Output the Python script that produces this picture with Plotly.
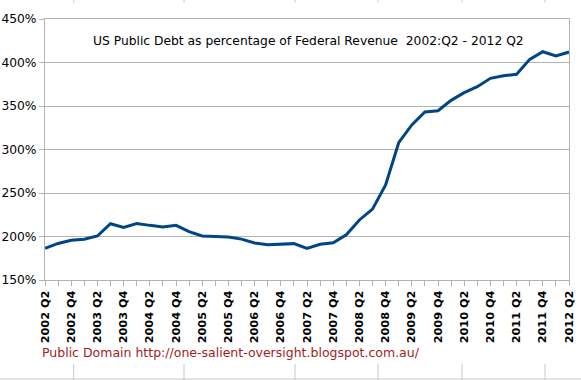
import plotly.graph_objects as go

quarters = []
for yr in range(2002, 2013):
    for q in (1, 2, 3, 4):
        if (yr == 2002 and q < 2) or (yr == 2012 and q > 2):
            continue
        quarters.append(f"{yr} Q{q}")

debt_pct = [186.4, 192.0, 195.6, 196.8, 200.6, 214.7, 210.5, 215.0, 212.8, 211.0,
            212.8, 205.5, 200.6, 200.2, 199.4, 197.0, 192.5, 190.6, 191.0, 191.8,
            186.4, 191.0, 192.9, 202.0, 219.0, 231.5, 259.2, 307.8, 328.2, 343.1,
            344.6, 356.5, 365.3, 372.2, 381.8, 384.8, 386.4, 403.6, 412.4, 407.5,
            412.0]

x_idx = list(range(len(quarters)))
tick_idx = x_idx[::2]
tick_text = [quarters[i] for i in tick_idx]

title_text = "US Public Debt as percentage of Federal Revenue  2002:Q2 - 2012 Q2"
footer_text = "Public Domain http://one-salient-oversight.blogspot.com.au/"

fig = go.Figure()
fig.add_trace(go.Scatter(x=x_idx, y=debt_pct, mode="lines",
                         line=dict(color="#004586", width=3), hoverinfo="y"))

grid = "#b3b3b3"
L, R, T, B = 45, 569, 19, 280
W, H = R - L, B - T

def px(x):
    return (x - L) / W

def py(y):
    return (B - y) / H

shapes = []
for vx in [73.7, 184, 295, 378, 462, 545]:
    shapes.append(dict(type="line", xref="paper", yref="paper",
                       x0=px(vx), x1=px(vx), y0=py(0), y1=py(2.5),
                       line=dict(color="#c8c8c8", width=1)))
    shapes.append(dict(type="line", xref="paper", yref="paper",
                       x0=px(vx), x1=px(vx), y0=py(364), y1=py(380),
                       line=dict(color="#c8c8c8", width=1)))
shapes.append(dict(type="line", xref="paper", yref="paper",
                   x0=px(0), x1=px(581), y0=py(379), y1=py(379),
                   line=dict(color="#c8c8c8", width=1)))

fig.update_layout(
    template="none",
    width=581, height=380,
    margin=dict(l=L, r=581 - R, t=T, b=380 - B, pad=0, autoexpand=False),
    paper_bgcolor="white", plot_bgcolor="white",
    showlegend=False,
    font=dict(family="DejaVu Sans", size=12, color="black"),
    xaxis=dict(range=[0, len(quarters) - 1], tickmode="array",
               tickvals=tick_idx, ticktext=[f"<b>{t}</b>" for t in tick_text],
               tickangle=-90, tickfont=dict(size=11.3, color="black"),
               automargin=False,
               showgrid=False, zeroline=False,
               showline=True, linecolor=grid, linewidth=1, mirror=True,
               ticks="outside", ticklen=5, tickcolor=grid,
               minor=dict(dtick=1, tick0=0, ticks="outside", ticklen=5,
                          tickcolor=grid, showgrid=False)),
    yaxis=dict(range=[150, 450], dtick=50, tick0=150, ticksuffix="%",
               tickfont=dict(size=12.3, color="black"),
               automargin=False,
               showgrid=True, gridcolor=grid, gridwidth=1, zeroline=False,
               showline=True, linecolor=grid, linewidth=1, mirror=True,
               ticks="outside", ticklen=5, tickcolor=grid),
    shapes=shapes,
    annotations=[
        dict(text=title_text, xref="paper", yref="paper",
             x=px(308), y=py(41), showarrow=False,
             font=dict(size=12.3, color="black"), xanchor="center", yanchor="middle"),
        dict(text=footer_text, xref="paper", yref="paper",
             x=px(40), y=py(352), showarrow=False,
             font=dict(size=12.5, color="#a11d21"), xanchor="left", yanchor="middle"),
    ],
)

fig.write_html("out.html", config={"displayModeBar": False},
               post_script="document.body.style.margin='0';document.body.style.overflow='hidden';")
